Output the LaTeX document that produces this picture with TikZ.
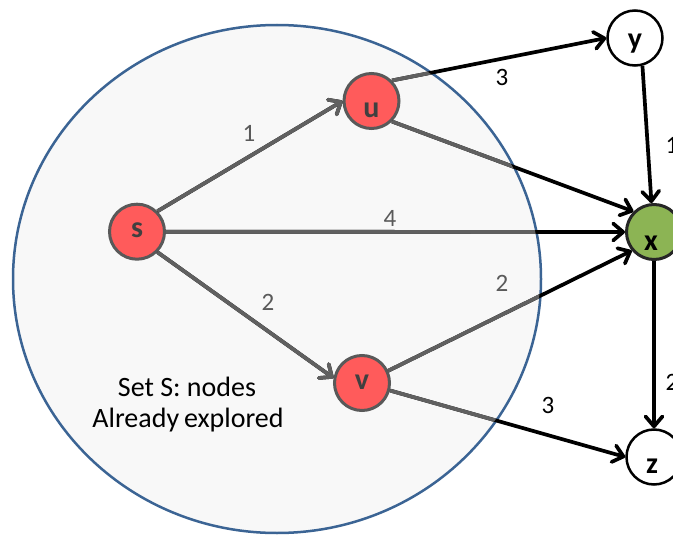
\documentclass[tikz,border=0pt]{standalone}
\usepackage{fontspec}
\setmainfont{Carlito}
\usetikzlibrary{arrows.meta}
\definecolor{setfill}{HTML}{F8F8F8}
\definecolor{setline}{HTML}{3B6494}
\definecolor{edgegray}{HTML}{606060}
\definecolor{nodered}{HTML}{FF5B5B}
\definecolor{nodegreen}{HTML}{8CB454}
\definecolor{bordgray}{HTML}{595959}
\definecolor{labgray}{HTML}{5A5A5A}
\definecolor{namegray}{HTML}{404040}
\begin{document}
\begin{tikzpicture}[x=1pt,y=-1pt,
  vtx/.style={circle,minimum size=55pt,inner sep=0pt,line width=3pt},
  redv/.style={vtx,draw=bordgray,fill=nodered},
  greenv/.style={vtx,draw=black!85,fill=nodegreen},
  whitev/.style={vtx,draw=black,fill=white,line width=2.5pt},
  vname/.style={font=\bfseries\fontsize{30}{32}\selectfont,inner sep=0pt},
  edge/.style={line width=3.7pt,-{Straight Barb[length=10pt,width=17pt,round]}},
  outedge/.style={edge,draw=black},
  inedge/.style={edge,draw=edgegray},
  wlab/.style={font=\fontsize{25}{28}\selectfont,inner sep=0pt},
  inlab/.style={wlab,text=labgray},
  outlab/.style={wlab,text=black},
  settext/.style={font=\fontsize{28}{30}\selectfont,inner sep=0pt,text=black}
]
\useasboundingbox (0,0) rectangle (673,535);
\clip (0,0) rectangle (673,535);
\fill[white] (0,0) rectangle (673,535);

% explored set
\draw[setline,fill=setfill,line width=2.5pt] (277,279) ellipse [x radius=264, y radius=254];

% vertices
\node[redv] (s) at (137,231.7) {};
\node[redv] (u) at (371.5,101) {};
\node[redv] (v) at (362,383) {};
\node[greenv] (x) at (654,232) {};
\node[whitev] (y) at (635,38) {};
\node[whitev] (z) at (654,457) {};

% edges (black outside the set)
\draw[outedge] (s.45) -- (u.180);
\draw[outedge] (s.0) -- (x.180);
\draw[outedge] (s.-45) -- (v.170);
\draw[outedge] (u.45) -- (y.180);
\draw[outedge] (u.-45) -- (x.135);
\draw[outedge] (v.25) -- (x.-140);
\draw[outedge] (v.-15) -- (z.180);
\draw[outedge] (y.-75) -- (x.95);
\draw[outedge] (x.-90) -- (z.90);

% grey inside the set
\begin{scope}
\clip (277,279) ellipse [x radius=262.8, y radius=252.8];
\draw[inedge] (s.45) -- (u.180);
\draw[inedge] (s.0) -- (x.180);
\draw[inedge] (s.-45) -- (v.170);
\draw[inedge] (u.45) -- (y.180);
\draw[inedge] (u.-45) -- (x.135);
\draw[inedge] (v.25) -- (x.-140);
\draw[inedge] (v.-15) -- (z.180);
\end{scope}

% vertex names
\node[vname,text=namegray] at ([yshift=1pt]s.center) {s};
\node[vname,text=namegray] at ([yshift=-9pt]u.center) {u};
\node[vname,text=namegray] at ([yshift=1pt]v.center) {v};
\node[vname,text=black] at ([xshift=-3pt,yshift=-11pt]x.center) {x};
\node[vname,text=black] at ([yshift=-6pt]y.center) {y};
\node[vname,text=black] at ([xshift=-2pt,yshift=-9pt]z.center) {z};

% weights
\node[inlab] (w1) at (249,133) {1};
\node[inlab] (w4) at (390,218) {4};
\node[inlab] (w2a) at (268,302) {2};
\node[inlab] (w2b) at (502,283) {2};
\node[outlab] (w3a) at (502,77) {3};
\node[outlab] (w3b) at (548,405) {3};
\node[outlab] (w1b) at (672,145) {1};
\node[outlab] (w2c) at (672,382) {2};

% caption
\node[settext] (t1) at (187,387) {Set S: nodes};
\node[settext] (t2) at (188,420) {Already\hspace{-1.5pt} explored};
\end{tikzpicture}
\end{document}
